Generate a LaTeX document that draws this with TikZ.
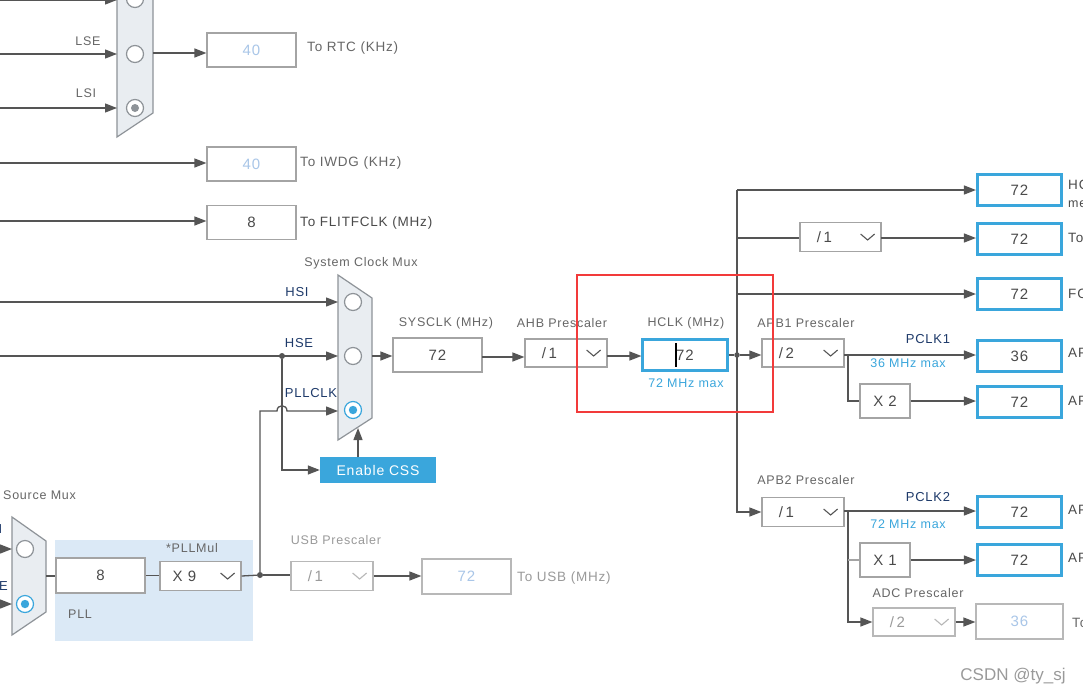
\documentclass[tikz,border=0pt]{standalone}
\usepackage{fontspec}
\setmainfont{Liberation Sans}
\newfontfamily\lbf{Liberation Sans}[LetterSpace=6]
\usetikzlibrary{arrows.meta,calc}
\definecolor{wirec}{HTML}{555555}
\definecolor{boxc}{HTML}{A4A4A4}
\definecolor{dboxc}{HTML}{B8B8B8}
\definecolor{bluec}{HTML}{3AA6DC}
\definecolor{navyc}{HTML}{1E3A6A}
\definecolor{lblc}{HTML}{666666}
\definecolor{lgc}{HTML}{9A9A9A}
\definecolor{valc}{HTML}{4A4A4A}
\definecolor{lvalc}{HTML}{A9C6E8}
\definecolor{muxf}{HTML}{E9EDF1}
\definecolor{muxd}{HTML}{8E9398}
\definecolor{pllf}{HTML}{DBE9F6}
\definecolor{redc}{HTML}{F23A3A}
\newcommand\fLbl{\lbf\fontsize{12.5}{14}\selectfont}
\newcommand\fVal{\lbf\fontsize{15}{17}\selectfont}
\newcommand\fTo{\lbf\fontsize{13.5}{15}\selectfont}
\newcommand\fSig{\lbf\fontsize{13}{15}\selectfont}
\newcommand\fCss{\lbf\fontsize{14}{16}\selectfont}
\newcommand\fWm{\fontsize{17}{19}\selectfont}
\begin{document}
\begin{tikzpicture}[x=1pt,y=-1pt,
  wire/.style={draw=wirec,line width=1.3pt},
  arr/.style={wire,-{Triangle[length=12pt,width=9pt]}},
  box/.style={draw=boxc,line width=1.2pt,fill=white,inner sep=0pt,font=\fVal,text=valc},
  vbox/.style={box,minimum width=89pt,minimum height=34pt},
  bbox/.style={box,draw=bluec,line width=2.6pt,minimum width=84.5pt,minimum height=30.5pt},
  ddbox/.style={box,minimum width=82pt,minimum height=28pt},
  sbox/.style={box,minimum width=50pt,minimum height=34pt},
  off/.style={draw=dboxc,text=lvalc},
  lbl/.style={font=\fLbl,text=lblc,inner sep=0pt},
  tolbl/.style={font=\fTo,text=lblc,inner sep=0pt,anchor=west},
  sig/.style={font=\fSig,text=navyc,inner sep=0pt},
  maxl/.style={font=\fLbl,text=bluec,inner sep=0pt},
  mux/.style={draw=muxd,fill=muxf,line width=1.2pt},
  rad/.style={circle,draw=muxd,fill=white,line width=1.2pt,minimum size=17pt,inner sep=0pt},
  dotn/.style={circle,fill=wirec,minimum size=6pt,inner sep=0pt},
  chev/.style={draw=wirec,line width=1.1pt},
]
\useasboundingbox (0,0) rectangle (1083,696);
\clip (0,0) rectangle (1083,696);
\fill[white] (0,0) rectangle (1083,696);

% ---------- RTC mux ----------
\draw[mux] (117,-40) -- (153,-40) -- (153,113) -- (117,137) -- cycle;
\node[rad] (r1) at (135,-1) {};
\node[rad] (r2) at (135,54) {};
\node[rad] (r3) at (135,108) {};
\fill[muxd] (r3) circle[radius=4];
\coordinate (rin1) at (0,0);   \coordinate (rm1) at (117,0);
\coordinate (rin2) at (0,54);  \coordinate (rm2) at (117,54);
\coordinate (rin3) at (0,108); \coordinate (rm3) at (117,108);
\draw[arr] (rin1) -- (rm1);
\draw[arr] (rin2) -- (rm2);
\draw[arr] (rin3) -- (rm3);
\node[lbl] (lse) at (88,41) {LSE};
\node[lbl] (lsi) at (86,93) {LSI};
\node[vbox,text=lvalc] (rtc) at (251.5,50) {40};
\coordinate (rmo) at (153,53);
\draw[arr] (rmo) -- (rmo -| rtc.west);
\node[tolbl] (rtct) at (307,48) {To RTC (KHz)};
\node[vbox,text=lvalc] (iwdg) at (251.5,164) {40};
\coordinate (iwl) at (0,163);
\draw[arr] (iwl) -- (iwl -| iwdg.west);
\node[tolbl] (iwt) at (300,163) {To IWDG (KHz)};
\node[vbox] (flit) at (251.5,222.5) {8};
\coordinate (fll) at (0,221);
\draw[arr] (fll) -- (fll -| flit.west);
\node[tolbl,text=valc] (flt) at (300,223) {To FLITFCLK (MHz)};

% ---------- System clock mux ----------
\node[lbl] (smt) at (361,263) {System Clock Mux};
\draw[mux] (338,275) -- (372,298) -- (372,418) -- (338,440) -- cycle;
\node[rad] (s1) at (353,302) {};
\node[rad] (s2) at (353,356) {};
\node[rad,draw=bluec] (s3) at (353,410) {};
\fill[bluec] (s3) circle[radius=4.2];
\coordinate (hsil) at (0,302); \coordinate (smi1) at (338,302);
\coordinate (hsel) at (0,356); \coordinate (smi2) at (338,356);
\coordinate (smi3) at (338,411);
\draw[arr] (hsil) -- (smi1);
\draw[arr] (hsel) -- (smi2);
\node[dotn] (j1) at (282,356) {};
\node[sig] (hsit) at (297,292) {HSI};
\node[sig] (hset) at (299,343) {HSE};
\node[sig] (pllt) at (311,393) {PLLCLK};
\node[draw=none,fill=bluec,text=white,font=\fCss,minimum width=116pt,minimum height=26pt,inner sep=0pt] (css) at (378,470) {Enable CSS};
\draw[arr] (j1) |- (css.west);
\coordinate (cssup) at (358,457);
\coordinate (smb) at (358,428);
\draw[arr] (cssup) -- (smb);

% ---------- SYSCLK / AHB / HCLK ----------
\coordinate (smo) at (372,356);
\node[vbox] (sysclk) at (437.5,355) {72};
\node[lbl] (syst) at (446,323) {SYSCLK (MHz)};
\draw[arr] (smo) -- (smo -| sysclk.west);
\node[ddbox] (ahb) at (566,353) {};
\node[font=\fVal,text=valc,inner sep=0pt] (ahbv) at ([xshift=25pt]ahb.west) {/\,1};
\draw[chev] ([xshift=-21pt,yshift=3pt]ahb.east) -- ++(7,6) -- ++(7,-6);
\node[lbl] (ahbt) at (562,323) {AHB Prescaler};
\coordinate (sye) at (482,357);
\draw[arr] (sye) -- (sye -| ahb.west);
\node[bbox] (hclk) at (685,355) {72};
\draw[black,line width=1.4pt] (676,343) -- (676,367);
\node[lbl] (hclkt) at (686,323) {HCLK (MHz)};
\node[maxl] (hmax) at (686,383) {72 MHz max};
\coordinate (ahe) at (607,356);
\draw[arr] (ahe) -- (ahe -| hclk.west);

% ---------- bus ----------
\node[dotn,minimum size=5.5pt] (busj) at (737,355) {};
\draw[wire] (hclk.east) -- (busj);
\node[ddbox] (apb1) at (803,353) {};
\node[font=\fVal,text=valc,inner sep=0pt] (apb1v) at ([xshift=25pt]apb1.west) {/\,2};
\draw[chev] ([xshift=-21pt,yshift=3pt]apb1.east) -- ++(7,6) -- ++(7,-6);
\node[lbl] (apb1t) at (806,323) {APB1 Prescaler};
\draw[arr] (busj) -- (busj -| apb1.west);

\coordinate (bt) at (737,190);
\node[bbox] (hb1) at (1019.5,190) {72};
\node[bbox] (hb2) at (1019.5,239) {72};
\node[bbox] (hb3) at (1019.5,294) {72};
\node[bbox] (hb4) at (1019.5,356) {36};
\node[bbox] (hb5) at (1019.5,402) {72};
\node[bbox] (hb6) at (1019.5,512) {72};
\node[bbox] (hb7) at (1019.5,560) {72};
\node[vbox,off,minimum width=87pt,minimum height=35pt] (hb8) at (1019.5,621.5) {36};

\node[ddbox,minimum width=81pt,minimum height=29pt] (div1) at (840.5,237) {};
\node[font=\fVal,text=valc,inner sep=0pt] (div1v) at ([xshift=25pt]div1.west) {/\,1};
\draw[chev] ([xshift=-21pt,yshift=3pt]div1.east) -- ++(7,6) -- ++(7,-6);

\node[ddbox,minimum height=29pt] (apb2) at (803,512) {};
\node[font=\fVal,text=valc,inner sep=0pt] (apb2v) at ([xshift=25pt]apb2.west) {/\,1};
\draw[chev] ([xshift=-21pt,yshift=3pt]apb2.east) -- ++(7,6) -- ++(7,-6);
\node[lbl] (apb2t) at (806,480) {APB2 Prescaler};

\draw[arr] (bt) |- (apb2.west);
\draw[arr] (bt) -- (hb1.west);
\coordinate (d1y) at (737,238);
\draw[wire] (d1y) -- (d1y -| div1.west);
\coordinate (d1e) at (881,238);
\draw[arr] (d1e) -- (d1e -| hb2.west);
\coordinate (fcy) at (737,294);
\draw[arr] (fcy) -- (fcy -| hb3.west);

% APB1 outputs
\coordinate (a1e) at (844,355);
\draw[arr] (a1e) -- (a1e -| hb4.west);
\node[sig] (pclk1) at (928,339) {PCLK1};
\node[maxl] (m36) at (908,363) {36 MHz max};
\node[sbox] (x2) at (885,401) {X 2};
\coordinate (b1) at (848,355);
\draw[wire] (b1) |- (x2.west);
\draw[arr] (x2.east) -- (x2.east -| hb5.west);

% APB2 outputs
\coordinate (a2e) at (844,511);
\draw[arr] (a2e) -- (a2e -| hb6.west);
\node[sig] (pclk2) at (928,497) {PCLK2};
\node[maxl] (m72) at (908,524) {72 MHz max};
\node[sbox] (x1) at (885,560) {X 1};
\coordinate (b2) at (848,511);
\node[ddbox,off] (adc) at (914,622) {};
\node[font=\fVal,text=lgc,inner sep=0pt] (adcv) at ([xshift=25pt]adc.west) {/\,2};
\draw[chev,draw=dboxc] ([xshift=-21pt,yshift=3pt]adc.east) -- ++(7,6) -- ++(7,-6);
\node[lbl] (adct) at (918,593) {ADC Prescaler};
\draw[arr] (b2) |- (adc.west);
\draw[draw=boxc,line width=1.3pt] (b2 |- x1.west) -- (x1.west);
\draw[arr] (x1.east) -- (x1.east -| hb7.west);
\draw[arr] (adc.east) -- (adc.east -| hb8.west);

% right-edge texts (cut by the picture's edge, as in the reference)
\node[tolbl,text=valc] (t1) at (1068,185) {HC};
\node[tolbl,text=valc,font=\fLbl] (t1b) at (1068,204) {me};
\node[tolbl,text=valc] (t2) at (1068,238) {To};
\node[tolbl,text=valc] (t3) at (1068,294) {FC};
\node[tolbl,text=valc] (t4) at (1068,353) {AP};
\node[tolbl,text=valc] (t5) at (1068,401) {AP};
\node[tolbl,text=valc] (t6) at (1068,510) {AP};
\node[tolbl,text=valc] (t7) at (1068,558) {AP};
\node[tolbl] (t8) at (1072,623) {To};

% ---------- PLL ----------
\fill[pllf] (55,540) rectangle (253,641);
\node[lbl,anchor=west] (psm) at (3,495) {Source Mux};
\draw[mux] (12,517) -- (46,541) -- (46,612) -- (12,635) -- cycle;
\node[rad] (p1) at (25,549) {};
\node[rad,draw=bluec] (p2) at (25,604) {};
\fill[bluec] (p2) circle[radius=4.2];
\coordinate (pin1) at (-5,549); \coordinate (pm1) at (12,549);
\coordinate (pin2) at (-5,604); \coordinate (pm2) at (12,604);
\draw[arr] (pin1) -- (pm1);
\draw[arr] (pin2) -- (pm2);
\node[sig,anchor=east] (phsi) at (2.5,529) {HSI};
\node[sig,anchor=east] (phse) at (8,586) {HSE};
\node[vbox,minimum height=35pt] (pll8) at (100.5,575.5) {8};
\coordinate (pmo) at (46,576);
\draw[wire] (pmo) -- (pmo -| pll8.west);
\node[ddbox,minimum width=81pt,minimum height=29pt] (x9) at (200.5,576) {};
\node[font=\fVal,text=valc,inner sep=0pt] (x9v) at ([xshift=25pt]x9.west) {X 9};
\draw[chev] ([xshift=-21pt,yshift=3pt]x9.east) -- ++(7,6) -- ++(7,-6);
\draw[wire] (pll8.east) -- (pll8.east -| x9.west);
\node[lbl] (pllm) at (192,548) {*PLLMul};
\node[lbl,anchor=west] (pllt2) at (68,614) {PLL};
\node[dotn] (j2) at (260,575) {};
\draw[wire] (x9.east) -- (j2);
\coordinate (hopa) at (277,411);
\coordinate (hopb) at (287,411);
\draw[arr] (j2) -- (j2 |- hopa) -- (hopa) .. controls (277,404) and (287,404) .. (hopb) -- (smi3);

% USB
\node[ddbox,off,minimum height=29pt] (usbp) at (332,576) {};
\node[font=\fVal,text=lgc,inner sep=0pt] (usbv) at ([xshift=25pt]usbp.west) {/\,1};
\draw[chev,draw=dboxc] ([xshift=-21pt,yshift=3pt]usbp.east) -- ++(7,6) -- ++(7,-6);
\node[lbl,text=lgc] (usbt) at (336,540) {USB Prescaler};
\draw[wire] (j2) -- (j2 -| usbp.west);
\node[vbox,off,minimum height=35pt] (usbo) at (466.5,576.5) {72};
\draw[arr] (usbp.east) -- (usbp.east -| usbo.west);
\node[tolbl,text=lgc] (usbto) at (517,578) {To USB (MHz)};

% ---------- highlight & watermark ----------
\draw[redc,line width=2.2pt] (577,275) rectangle (773,412);
\node[font=\fWm,text=lgc,inner sep=0pt] (wm) at (1013,676) {CSDN @ty\_sj};
\end{tikzpicture}
\end{document}
